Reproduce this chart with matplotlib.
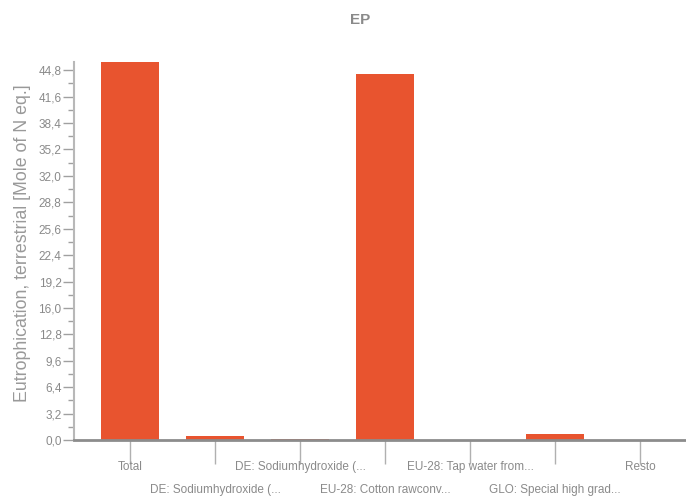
import matplotlib
matplotlib.use("Agg")
import matplotlib.pyplot as plt
import matplotlib.ticker as ticker
import numpy as np

categories = [
    "Total",
    "DE: Sodiumhydroxide (...",
    "DE: Sodiumhydroxide (...",
    "EU-28: Cotton rawconv...",
    "EU-28: Tap water from...",
    "GLO: Special high grad...",
    "Resto",
]
values = [45.8, 0.5, 0.12, 44.4, 0.04, 0.7, 0.04]
y_ticks = [0.0, 3.2, 6.4, 9.6, 12.8, 16.0, 19.2, 22.4, 25.6, 28.8, 32.0, 35.2, 38.4, 41.6, 44.8]

bar_color = "#E8542F"
text_gray = "#8a8a8a"
fonts = ["Liberation Sans Narrow", "Liberation Sans", "DejaVu Sans"]

fig = plt.figure(figsize=(6.86, 5.0), dpi=100)
ax = fig.add_axes([74 / 686, 60 / 500, 612 / 686, 378 / 500])

x = np.arange(len(categories))
ax.bar(x, values, width=0.68, color=bar_color, zorder=2)

ax.set_xlim(-0.66, 6.54)
ax.set_ylim(0, values[0])

ax.set_yticks(y_ticks)
ax.yaxis.set_minor_locator(ticker.MultipleLocator(1.6))
ax.yaxis.set_major_formatter(ticker.FuncFormatter(lambda v, p: f"{v:.1f}".replace(".", ",")))
ax.tick_params(axis="y", which="major", length=8, width=1, color="#a0a0a0",
               labelsize=8.5, labelcolor=text_gray, pad=1)
ax.tick_params(axis="y", which="minor", length=4, width=1, color="#a0a0a0")
for lbl in ax.get_yticklabels():
    lbl.set_family(fonts)

ax.set_xticks(x)
ax.set_xticklabels([])
ax.tick_params(axis="x", length=17, width=1, color="#b0b0b0")
for i, name in enumerate(categories):
    y_off = -27 if i % 2 == 0 else -50
    ax.annotate(name, xy=(i, 0), xycoords=("data", "axes fraction"),
                xytext=(0, y_off), textcoords="offset pixels",
                ha="center", va="center", fontsize=8.5, color=text_gray, family=fonts)

for side in ["top", "right"]:
    ax.spines[side].set_visible(False)
ax.spines["left"].set_color("#b8b8b8")
ax.spines["left"].set_linewidth(1.5)
ax.spines["bottom"].set_color("#8c8c8c")
ax.spines["bottom"].set_linewidth(2)
ax.spines["bottom"].set_zorder(3)

fig.text(360 / 686, 1 - 20 / 500, "EP", ha="center", va="center", fontsize=11,
         fontweight="bold", color=text_gray, family=fonts)
fig.text(23 / 686, 1 - 243 / 500, "Eutrophication, terrestrial [Mole of N eq.]",
         rotation=90, ha="center", va="center", fontsize=12.8, color="#999999",
         family=fonts)

fig.savefig("out.png", dpi=100)
